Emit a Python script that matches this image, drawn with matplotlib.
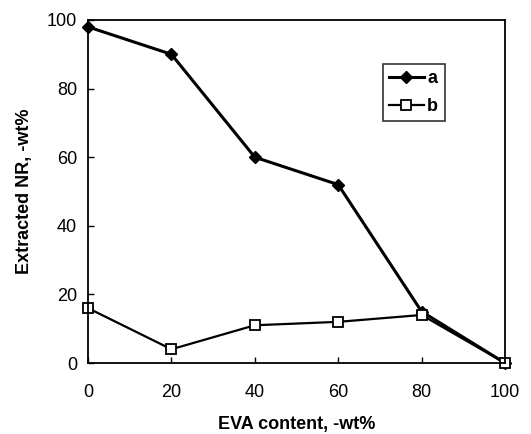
import matplotlib
matplotlib.use("Agg")
import matplotlib.pyplot as plt

x = [0, 20, 40, 60, 80, 100]
a = [98, 90, 60, 52, 15, 0]
b = [16, 4, 11, 12, 14, 0]
xticks = [0, 20, 40, 60, 80, 100]
yticks = [0, 20, 40, 60, 80, 100]

plt.rcParams['font.family'] = ['Liberation Sans', 'DejaVu Sans']

fig = plt.figure(figsize=(5.31, 4.34), dpi=100)
ax = fig.add_axes([88/531, 1-363/434, (505-88)/531, (363-20)/434])

ax.plot(x, a, color='black', lw=2.2, marker='D', ms=6.5, mfc='black', mec='black', label='a', clip_on=False)
ax.plot(x, b, color='black', lw=1.6, marker='s', ms=7, mfc='white', mec='black', mew=1.3, label='b', clip_on=False)

ax.set_xlim(0, 100)
ax.set_ylim(0, 100)
ax.set_xticks(xticks)
ax.set_yticks(yticks)
ax.tick_params(direction='in', length=4, width=1, labelsize=13)
ax.tick_params(axis='y', pad=8)
ax.tick_params(axis='x', pad=15)
for s in ax.spines.values():
    s.set_linewidth(1.3)

ax.set_xlabel('EVA content, -wt%', fontsize=13, fontweight='bold', labelpad=11)
ax.set_ylabel('Extracted NR, -wt%', fontsize=13, fontweight='bold', labelpad=10)

leg = ax.legend(loc='upper left', bbox_to_anchor=((383-88)/417, 1-(64-20)/343),
                frameon=True, fancybox=False, edgecolor='black',
                prop={'weight': 'bold', 'size': 13}, handlelength=1.9, handletextpad=0.2,
                borderpad=0.35, borderaxespad=0, labelspacing=0.6)
leg.get_frame().set_linewidth(1.2)

fig.savefig('out.png', dpi=100)
